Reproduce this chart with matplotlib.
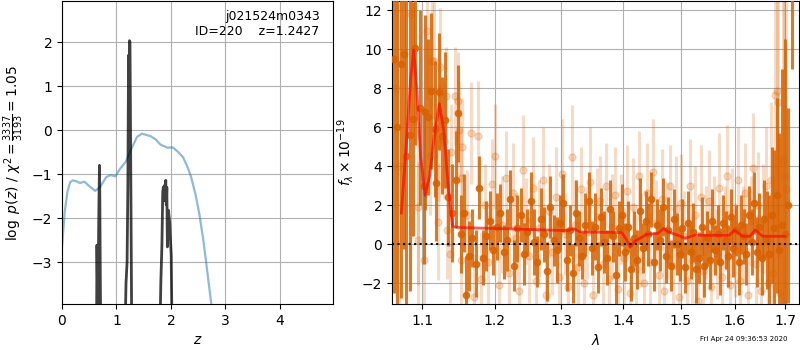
import numpy as np
import matplotlib
matplotlib.use("Agg")
import matplotlib.pyplot as plt
from matplotlib.ticker import FixedLocator, NullLocator, FixedFormatter

# ====== DATA ======
# p(z) panel
z_chi = [0.0, 0.05, 0.10, 0.15, 0.20, 0.26, 0.33, 0.41, 0.50, 0.61, 0.70, 0.81, 0.89,
         0.98, 1.07, 1.17, 1.29, 1.38, 1.47, 1.63, 1.72, 1.81, 1.94, 2.03, 2.12, 2.22,
         2.30, 2.37, 2.45, 2.52, 2.59, 2.65, 2.74, 2.80]
logp_chi = [-2.66, -1.85, -1.40, -1.18, -1.14, -1.16, -1.20, -1.17, -1.27, -1.38, -1.29,
            -1.07, -1.02, -1.05, -0.87, -0.72, -0.38, -0.15, -0.08, -0.14, -0.21, -0.33,
            -0.40, -0.39, -0.48, -0.61, -0.82, -1.06, -1.45, -1.89, -2.45, -3.03, -3.93, -4.6]

z_pdf = [0.60, 0.635, 0.642, 0.650, 0.660, 0.672, 0.680, 0.688, 0.695, 0.703, 0.71, 0.72,
         1.14, 1.160, 1.175, 1.195, 1.210, 1.222, 1.232, 1.240, 1.248, 1.256, 1.266, 1.280, 1.30,
         1.78, 1.800, 1.815, 1.835, 1.850, 1.862, 1.875, 1.885, 1.895, 1.905, 1.915, 1.925,
         1.935, 1.945, 1.955, 1.965, 1.978, 1.990, 2.005, 2.020, 2.04]
logp_pdf = [-9, -4.5, -2.61, -3.4, -4.5, -2.4, -1.5, -0.80, -1.6, -3.3, -4.5, -9,
            -9, -4.5, -3.48, -3.0, -1.2, 1.70, 0.8, 2.03, 2.0, 0.5, -1.6, -4.5, -9,
            -9, -4.5, -3.45, -2.6, -1.40, -1.29, -1.60, -1.25, -1.48, -1.14, -1.70, -1.30,
            -2.65, -2.10, -1.82, -1.95, -2.10, -2.45, -2.83, -4.5, -9]

# spectrum panel: dark points
wave_d = [1.064, 1.068, 1.072, 1.076, 1.079, 1.084, 1.088, 1.091, 1.097, 1.102, 1.104, 1.108,
          1.112, 1.117, 1.119, 1.123, 1.127, 1.131, 1.135, 1.140, 1.145, 1.148, 1.152, 1.157, 1.159,
          1.163, 1.168, 1.173, 1.178, 1.183, 1.188, 1.193, 1.198, 1.203, 1.208, 1.213, 1.218,
          1.223, 1.228, 1.233, 1.238, 1.243, 1.248, 1.253, 1.258, 1.263, 1.268, 1.273, 1.278,
          1.283, 1.288, 1.293, 1.298, 1.303, 1.308, 1.313, 1.318, 1.323, 1.328, 1.333, 1.338,
          1.343, 1.348, 1.353, 1.358, 1.363, 1.368, 1.373, 1.378, 1.383, 1.388, 1.393, 1.398,
          1.403, 1.408, 1.413, 1.418, 1.423, 1.428, 1.433, 1.438, 1.443, 1.448, 1.453, 1.458,
          1.463, 1.468, 1.473, 1.478, 1.483, 1.488, 1.493, 1.498, 1.503, 1.508, 1.513, 1.518,
          1.523, 1.528, 1.533, 1.538, 1.543, 1.548, 1.553, 1.558, 1.563, 1.568, 1.573, 1.578,
          1.583, 1.588, 1.593, 1.598, 1.603, 1.608, 1.613, 1.618, 1.623, 1.628, 1.633, 1.638,
          1.643, 1.648, 1.653, 1.658, 1.663, 1.668, 1.673, 1.678, 1.683, 1.688, 1.693, 1.699,
          1.705, 1.715]
flux_d = [9.47, 6.0, 9.23, 9.74, 4.5, 5.6, 6.4, 10.07, 7.0, 3.0, 6.75, 6.5,
          7.85, 5.9, 3.15, 7.8, 5.55, 6.35, 2.4, 1.6, 3.3, 6.7, 0.5, 1.57, -2.6,
          -0.6, 0.3, -1.0, 2.9, -0.7, 0.4, 1.2, -0.3, 0.9, 1.6, -0.4, 0.2,
          2.3, -1.1, 0.8, 1.5, -0.5, 0.6, 2.2, 0.1, -0.9, 1.3, 0.5, -1.4,
          1.9, 0.2, -0.3, 1.1, 2.1, -0.8, 0.7, -1.5, 1.6, 0.3, -0.6, 1.0,
          2.2, -0.2, 0.9, -1.2, 1.4, 0.1, -0.7, 1.8, 0.4, -1.6, 0.8, 1.5,
          -0.4, 0.9, -1.3, 0.3, -0.8, 1.7, -0.2, 1.2, 0.5, 2.3, -0.9, 1.0,
          0.2, 1.9, -0.6, 0.7, -1.1, 1.3, 0.0, -0.5, 0.8, -1.2, 1.1, -0.4,
          0.6, -1.3, -0.7, 0.9, -1.1, 0.3, -0.8, 1.2, -0.3, 0.5, -0.9, 1.1,
          0.2, -0.6, 1.4, -0.2, 0.7, -0.9, 1.0, 0.4, -0.5, 1.5, 0.1, 2.1,
          -0.4, 0.9, -0.7, 1.3, 0.2, -0.5, 1.5, 0.8, 2.5, -0.3, 1.0, 0.5,
          2.0, 14.0]
err_d = [12, 12, 12, 10, 9, 8, 6, 5, 5, 4, 5, 4,
         4, 3.5, 3, 3, 3, 3.5, 2.5, 2.5, 2.5, 2.5, 2.0, 2.0, 2.0,
         1.8, 1.5, 1.7, 1.6, 1.4, 1.8, 1.5, 1.3, 1.7, 1.5, 1.4, 1.6,
         1.5, 1.3, 1.7, 1.4, 1.6, 1.2, 1.5, 1.7, 1.3, 1.6, 1.4, 1.5,
         1.6, 1.3, 1.7, 1.4, 1.5, 1.6, 1.3, 1.5, 1.7, 1.4, 1.2, 1.6,
         1.5, 1.4, 1.7, 1.3, 1.5, 1.6, 1.4, 1.5, 1.3, 1.7, 1.4, 1.6,
         1.5, 1.3, 1.6, 1.4, 1.5, 1.7, 1.3, 1.5, 1.6, 1.4, 1.5, 1.3,
         1.6, 1.5, 1.4, 1.7, 1.3, 1.5, 1.6, 1.4, 1.5, 1.3, 1.6, 1.4,
         1.5, 1.7, 1.3, 1.5, 1.6, 1.4, 1.5, 1.6, 1.3, 1.5, 1.7, 1.4,
         1.5, 1.6, 1.4, 1.5, 1.3, 1.7, 1.5, 1.4, 1.6, 1.5, 1.7, 1.6,
         1.8, 1.7, 1.9, 2.0, 2.5, 3.0, 3.5, 4.0, 5.0, 6.0, 8.0, 10.0,
         5.0, 5.0]

# spectrum panel: light points
wave_l = [1.066, 1.070, 1.086, 1.094, 1.095, 1.103, 1.106, 1.110, 1.113, 1.116, 1.121, 1.123,
          1.124, 1.129, 1.132, 1.133, 1.137, 1.139, 1.144, 1.148, 1.150, 1.152, 1.153, 1.154,
          1.161, 1.166, 1.171, 1.176, 1.181, 1.186, 1.191, 1.196, 1.201, 1.206, 1.211, 1.216,
          1.221, 1.226, 1.231, 1.236, 1.241, 1.246, 1.251, 1.256, 1.261, 1.266, 1.271, 1.276,
          1.281, 1.286, 1.291, 1.296, 1.301, 1.306, 1.311, 1.316, 1.321, 1.326, 1.331, 1.336,
          1.341, 1.346, 1.351, 1.356, 1.361, 1.366, 1.371, 1.376, 1.381, 1.386, 1.391, 1.396,
          1.401, 1.406, 1.411, 1.416, 1.421, 1.426, 1.431, 1.436, 1.441, 1.446, 1.451, 1.456,
          1.461, 1.466, 1.471, 1.476, 1.481, 1.486, 1.491, 1.496, 1.501, 1.506, 1.511, 1.516,
          1.521, 1.526, 1.531, 1.536, 1.541, 1.546, 1.551, 1.556, 1.561, 1.566, 1.571, 1.576,
          1.581, 1.586, 1.591, 1.596, 1.601, 1.606, 1.611, 1.616, 1.621, 1.626, 1.631, 1.636,
          1.641, 1.646, 1.651, 1.656, 1.661, 1.666, 1.671, 1.676, 1.680, 1.684, 1.686, 1.690,
          1.695, 1.698, 1.702]
flux_l = [8.0, 4.0, 11.8, 0.2, 1.9, -0.8, 10.9, 4.5, 9.4, 9.4, 1.15, 5.2,
          9.1, 5.3, 7.6, 0.7, -0.5, 4.7, 7.6, 7.35, 5.85, 3.4, -0.8, 5.0,
          1.5, 5.7, -2.7, 5.55, -1.8, 2.0, -0.9, 3.1, 4.5, -2.1, 1.0, 3.4,
          -1.5, 2.6, 0.3, -2.4, 3.8, 1.2, -0.6, 2.9, -1.9, 0.8, 3.3, -2.6,
          1.7, -0.4, 2.4, -1.7, 3.6, 0.5, -2.2, 4.45, 1.0, -1.2, 2.8, -2.0,
          0.6, 3.2, -2.6, 1.4, 2.2, -1.0, 3.0, -1.8, 0.9, 2.5, -2.3, 1.3,
          -0.7, 2.7, -2.5, 1.9, -1.3, 3.5, 0.2, -2.0, 2.6, -0.9, 3.7, 1.1,
          -1.6, 2.3, -2.4, 0.7, 3.0, -1.1, 1.8, -2.7, 2.1, 0.4, -1.9, 3.0,
          -0.8, 1.5, -2.9, 2.4, -1.4, 0.6, 2.2, -2.2, 1.0, -0.5, 2.9, -1.7,
          0.8, 3.5, -2.1, 1.6, -0.3, 3.3, -1.9, 0.5, 2.6, -2.6, 1.2, 3.9,
          -1.0, 2.0, -2.4, 1.3, 3.0, -2.0, 3.3, -1.5, 7.64, 7.86, 7.3, -2.5,
          4.3, 3.5, 2.8]
err_l = [10, 9, 6, 4, 4, 3.5, 3.5, 3, 3, 3, 3, 3,
         3, 3, 2.5, 2.5, 2.5, 2.5, 2.5, 2.5, 2.5, 2.5, 2.5, 2.5,
         2.3, 2.6, 2.2, 2.8, 2.4, 2.1, 2.6, 2.3, 2.7, 2.2, 2.5, 2.4,
         2.1, 2.6, 2.3, 2.5, 2.8, 2.2, 2.4, 2.6, 2.1, 2.5, 2.7, 2.3,
         2.4, 2.2, 2.6, 2.5, 2.8, 2.1, 2.4, 2.7, 2.3, 2.5, 2.2, 2.6,
         2.4, 2.8, 2.1, 2.5, 2.3, 2.6, 2.2, 2.4, 2.7, 2.5, 2.1, 2.3,
         2.6, 2.4, 2.2, 2.5, 2.8, 2.3, 2.4, 2.1, 2.6, 2.5, 2.7, 2.2,
         2.4, 2.6, 2.3, 2.5, 2.1, 2.4, 2.7, 2.2, 2.5, 2.3, 2.6, 2.4,
         2.2, 2.5, 2.1, 2.7, 2.3, 2.4, 2.6, 2.2, 2.5, 2.3, 2.8, 2.4,
         2.2, 2.6, 2.5, 2.3, 2.4, 2.7, 2.1, 2.5, 2.6, 2.4, 2.3, 2.8,
         2.5, 2.7, 2.6, 2.8, 3.0, 3.5, 4.0, 5.0, 7.0, 8.0, 8.0, 8.0,
         9.0, 10.0, 10.0]

# model
wave_m = [1.073, 1.080, 1.085, 1.089, 1.093, 1.098, 1.104, 1.110, 1.116, 1.123, 1.129,
          1.135, 1.141, 1.150, 1.200, 1.250, 1.300, 1.310, 1.320, 1.330, 1.380, 1.398,
          1.405, 1.412, 1.420, 1.440, 1.460, 1.469, 1.480, 1.495, 1.508, 1.525, 1.590,
          1.600, 1.615, 1.630, 1.640, 1.655, 1.700]
flux_m = [1.6, 5.5, 8.5, 9.95, 8.0, 4.5, 2.5, 3.5, 5.5, 7.2, 5.8,
          2.95, 0.9, 0.85, 0.8, 0.75, 0.7, 0.7, 0.78, 0.62, 0.6, 0.58,
          0.25, -0.15, 0.15, 0.5, 0.55, 0.8, 0.6, 0.45, 0.3, 0.45, 0.45,
          0.72, 0.4, 0.4, 0.72, 0.4, 0.4]

lam_ticks = [1.1, 1.2, 1.3, 1.4, 1.5, 1.6, 1.7]
stamp = "Fri Apr 24 09:36:53 2020"
# ===================

orange = "#d96200"

fig = plt.figure(figsize=(8, 3.5), dpi=100)
ax1 = fig.add_axes([0.0775, 0.131, 0.339, 0.866])
ax2 = fig.add_axes([0.49, 0.131, 0.509, 0.866])

# left: p(z)
ax1.plot(z_chi, logp_chi, color="C0", alpha=0.5, lw=1.6)
ax1.plot(z_pdf, logp_pdf, color="k", alpha=0.75, lw=2)
ax1.set_xlim(0, 4.98)
ax1.set_ylim(-3.95, 2.93)
ax1.set_xticks([0, 1, 2, 3, 4])
ax1.set_yticks([-3, -2, -1, 0, 1, 2])
ax1.grid(True)
ax1.set_xlabel(r"$z$")
ax1.set_ylabel(r"$\log\ p(z)$ / $\chi^2=\frac{3337}{3193}=1.05$")
ax1.text(0.95, 0.97, "j021524m0343\nID=220    z=1.2427", ha="right", va="top",
         transform=ax1.transAxes, fontsize=9)

# right: spectrum
ax2.errorbar(wave_l, flux_l, yerr=err_l, fmt="o", color=orange, alpha=0.22,
             markersize=5, elinewidth=2.2, capsize=0, zorder=2)
ax2.errorbar(wave_d, flux_d, yerr=err_d, fmt="o", color=orange, alpha=0.85,
             markersize=4.5, elinewidth=2.2, capsize=0, zorder=3)
ax2.plot(wave_m, flux_m, color="r", alpha=0.65, lw=2, zorder=4)
ax2.axhline(0, color="k", ls=":", lw=1.5, zorder=5)

ax2.set_xscale("log")
ax2.set_xlim(1.061, 1.729)
ax2.set_ylim(-3.08, 12.46)
ax2.xaxis.set_major_locator(FixedLocator(lam_ticks))
ax2.xaxis.set_major_formatter(FixedFormatter([str(t) for t in lam_ticks]))
ax2.xaxis.set_minor_locator(NullLocator())
ax2.grid(True)
ax2.set_xlabel(r"$\lambda$")
ax2.set_ylabel(r"$f_\lambda \times 10^{-19}$")

fig.text(0.985, 0.031, stamp, ha="right", va="center", fontsize=5)

fig.savefig("out.png", dpi=100)
